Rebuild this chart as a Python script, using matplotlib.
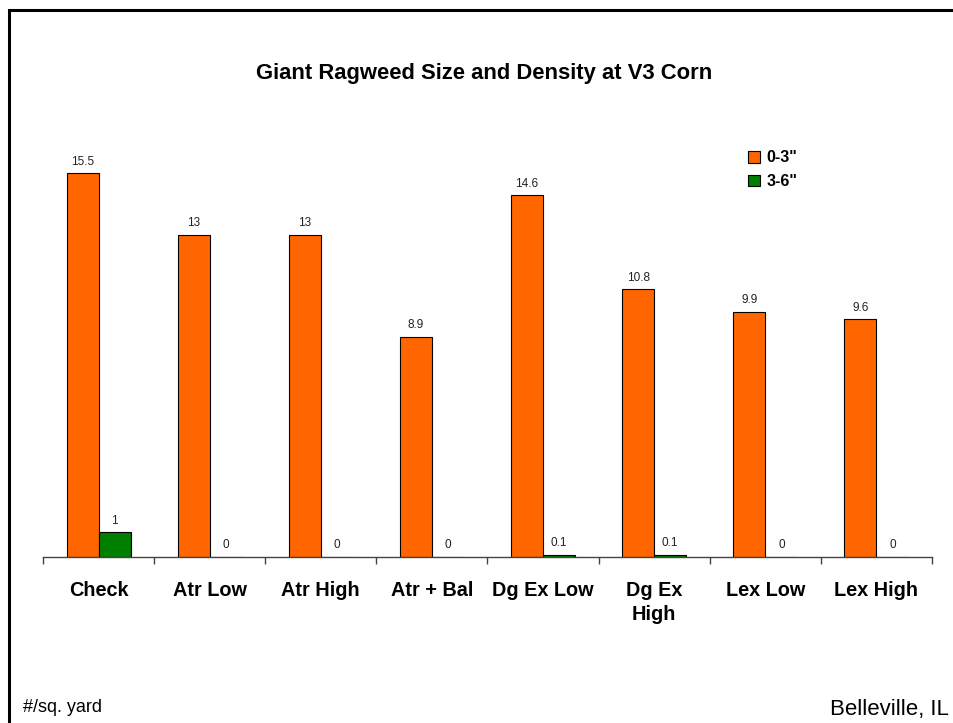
import matplotlib.pyplot as plt
from matplotlib.patches import Rectangle
import numpy as np

plt.rcParams['font.family'] = ['Liberation Sans', 'DejaVu Sans']

treatments = ['Check', 'Atr Low', 'Atr High', 'Atr + Bal', 'Dg Ex Low',
              'Dg Ex\nHigh', 'Lex Low', 'Lex High']
size_0_3 = [15.5, 13, 13, 8.9, 14.6, 10.8, 9.9, 9.6]
size_3_6 = [1, 0, 0, 0, 0.1, 0.1, 0, 0]
series_names = ['0-3"', '3-6"']
colors = ['#FF6600', '#008000']

W, H = 954, 723
fig = plt.figure(figsize=(W / 100, H / 100), dpi=100)

# axes box in pixels: x 43..932, baseline at 557
ax = fig.add_axes([43 / W, (H - 557) / H, (932 - 43) / W, (557 - 160.7) / H])

x = np.arange(len(treatments))
bw = 0.288
b1 = ax.bar(x - bw / 2, size_0_3, bw, color=colors[0], edgecolor='black',
            linewidth=0.8, label=series_names[0])
b2 = ax.bar(x + bw / 2, size_3_6, bw, color=colors[1], edgecolor='black',
            linewidth=0.8, label=series_names[1])

for bars, vals in ((b1, size_0_3), (b2, size_3_6)):
    for rect, v in zip(bars, vals):
        ax.annotate('%g' % v, (rect.get_x() + rect.get_width() / 2, v),
                    xytext=(0, 4), textcoords='offset points',
                    ha='center', va='bottom', fontsize=8.5, color='#222222')

ax.set_xlim(-0.5, len(treatments) - 0.5)
ax.set_ylim(0, 16)
for s in ('top', 'right', 'left'):
    ax.spines[s].set_visible(False)
ax.spines['bottom'].set_color('#444444')
ax.spines['bottom'].set_linewidth(1.0)
ax.set_yticks([])

ax.set_xticks(x)
ax.set_xticklabels(treatments, fontsize=14.3, fontweight='bold',
                   linespacing=1.35)
ax.tick_params(axis='x', which='major', length=0, pad=17)
ax.set_xticks(np.arange(len(treatments) + 1) - 0.5, minor=True)
ax.tick_params(axis='x', which='minor', length=5, width=1.0, color='#444444')

ax.legend(loc='upper left', bbox_to_anchor=(734 / W, 1 - 136 / H),
          bbox_transform=fig.transFigure, frameon=False,
          handlelength=0.75, handleheight=0.75, handletextpad=0.4,
          labelspacing=0.55, prop={'weight': 'bold', 'size': 11.5})

fig.text(484 / W, 1 - 74 / H, 'Giant Ragweed Size and Density at V3 Corn',
         ha='center', va='center', fontsize=15.8, fontweight='bold')
fig.text(23 / W, 1 - 707 / H, '#/sq. yard', ha='left', va='center',
         fontsize=13)
fig.text(830 / W, 1 - 710 / H, 'Belleville, IL', ha='left', va='center',
         fontsize=16)

# frame running off the right and bottom edges
fig.patches.append(Rectangle((9.5 / W, -0.1), 1.2, 1.1 - 10.5 / H,
                             transform=fig.transFigure, fill=False,
                             edgecolor='black', linewidth=2.2))

fig.savefig('out.png', dpi=100)
